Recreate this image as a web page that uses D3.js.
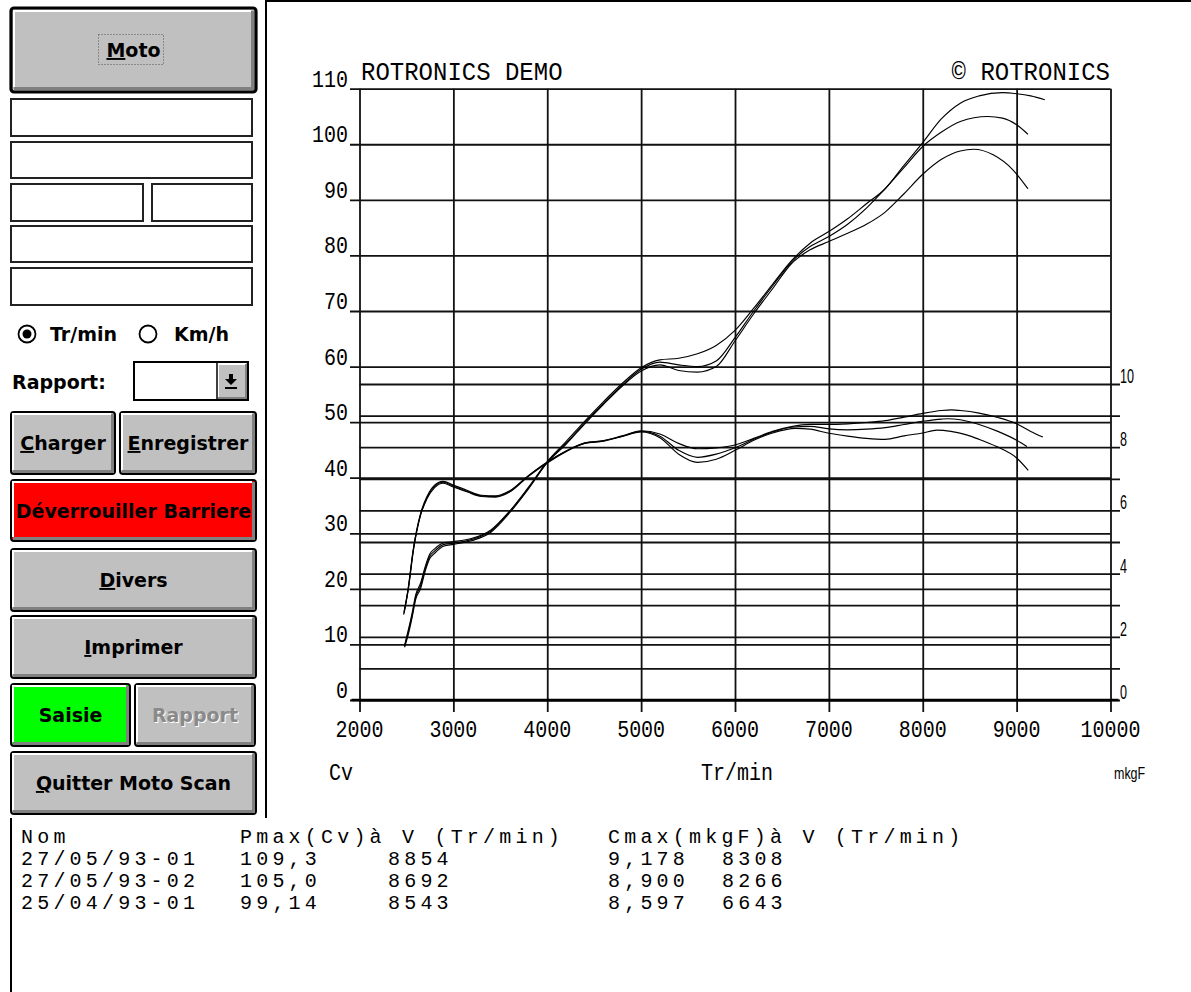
<!DOCTYPE html>
<html>
<head>
<meta charset="utf-8">
<script src="https://cdn.jsdelivr.net/npm/d3@7"></script>
<style>
  body { margin: 0; background: #fff; }
  svg { display: block; }
</style>
</head>
<body>
<div id="chart"></div>
<script>
// ---------------------------------------------------------------------------
// Moto Scan — dyno plot (power Cv + torque mkgF vs Tr/min), 3 runs
// ---------------------------------------------------------------------------

const rpmTicks = [2000, 3000, 4000, 5000, 6000, 7000, 8000, 9000, 10000];
const powerTicks = [0, 10, 20, 30, 40, 50, 60, 70, 80, 90, 100, 110];
const torqueTicks = [0, 1, 2, 3, 4, 5, 6, 7, 8, 9, 10];
const torqueLabels = [0, 2, 4, 6, 8, 10];

const runNames = ['27/05/93-01', '27/05/93-02', '25/04/93-01'];
const pmax = ['109,3', '105,0', '99,14'];
const pmaxRpm = ['8854', '8692', '8543'];
const cmax = ['9,178', '8,900', '8,597'];
const cmaxRpm = ['8308', '8266', '6643'];

// run 1 — 27/05/93-01
const rpmPow1 = [2480, 2520, 2560, 2600, 2650, 2700, 2750, 2800, 2900, 3000, 3200, 3400, 3600, 3800, 4000, 4200, 4400, 4600, 4800, 5000, 5200, 5400, 5600, 5800, 6000, 6200, 6400, 6600, 6800, 7000, 7200, 7400, 7600, 7800, 8000, 8200, 8400, 8600, 8850, 9000, 9150, 9300];
const pow1 = [9.8, 12.6, 15.6, 19.0, 21.0, 24.0, 26.3, 27.2, 28.3, 28.5, 29.1, 30.6, 34.0, 38.3, 42.9, 46.5, 50.2, 53.7, 57.0, 59.8, 61.2, 61.5, 62.3, 63.8, 66.5, 70.5, 74.8, 79.0, 82.2, 84.3, 86.6, 89.3, 92.0, 96.2, 100.3, 104.6, 107.4, 108.7, 109.3, 109.1, 108.7, 108.0];
const rpmTrq1 = [2475, 2520, 2575, 2650, 2720, 2800, 2890, 3000, 3150, 3300, 3450, 3600, 3800, 4000, 4200, 4400, 4600, 4800, 5000, 5200, 5400, 5600, 5800, 6000, 6200, 6400, 6600, 6800, 7000, 7200, 7400, 7600, 7800, 8000, 8200, 8308, 8400, 8600, 8800, 9000, 9150, 9280];
const trq1 = [2.8, 3.55, 4.8, 5.9, 6.45, 6.8, 6.92, 6.8, 6.63, 6.48, 6.46, 6.62, 7.1, 7.53, 7.88, 8.14, 8.21, 8.36, 8.52, 8.42, 8.12, 7.95, 7.98, 8.07, 8.28, 8.5, 8.65, 8.72, 8.72, 8.74, 8.78, 8.84, 8.95, 9.07, 9.16, 9.18, 9.16, 9.08, 8.94, 8.74, 8.5, 8.32];

// run 2 — 27/05/93-02
const rpmPow2 = [2480, 2520, 2560, 2600, 2650, 2700, 2750, 2800, 2900, 3000, 3200, 3400, 3600, 3800, 4000, 4200, 4400, 4600, 4800, 5000, 5200, 5400, 5600, 5800, 6000, 6200, 6400, 6600, 6800, 7000, 7200, 7400, 7600, 7800, 8000, 8200, 8400, 8692, 8850, 9000, 9120];
const pow2 = [9.7, 12.2, 15.2, 18.6, 20.5, 23.6, 25.9, 26.8, 28.0, 28.2, 28.9, 30.4, 33.9, 38.1, 42.8, 46.2, 49.9, 53.4, 56.7, 59.5, 60.8, 60.3, 60.0, 61.0, 65.2, 70.0, 74.5, 78.8, 81.6, 83.4, 85.6, 88.5, 92.0, 95.8, 99.6, 102.2, 104.1, 105.0, 104.7, 103.5, 101.8];
const rpmTrq2 = [2475, 2520, 2575, 2650, 2720, 2800, 2890, 3000, 3150, 3300, 3450, 3600, 3800, 4000, 4200, 4400, 4600, 4800, 5000, 5200, 5400, 5600, 5800, 6000, 6200, 6400, 6600, 6800, 7000, 7200, 7400, 7600, 7800, 8000, 8200, 8266, 8400, 8600, 8800, 9000, 9110];
const trq2 = [2.75, 3.5, 4.75, 5.85, 6.4, 6.76, 6.89, 6.77, 6.6, 6.46, 6.44, 6.6, 7.1, 7.52, 7.87, 8.13, 8.2, 8.35, 8.5, 8.35, 7.9, 7.68, 7.78, 7.98, 8.25, 8.48, 8.63, 8.66, 8.58, 8.55, 8.57, 8.62, 8.72, 8.82, 8.89, 8.9, 8.87, 8.72, 8.5, 8.22, 8.02];

// run 3 — 25/04/93-01
const rpmPow3 = [2480, 2520, 2560, 2600, 2650, 2700, 2750, 2800, 2900, 3000, 3200, 3400, 3600, 3800, 4000, 4200, 4400, 4600, 4800, 5000, 5200, 5400, 5600, 5800, 6000, 6200, 6400, 6600, 6800, 7000, 7200, 7400, 7600, 7800, 8000, 8200, 8400, 8543, 8750, 8960, 9120];
const pow3 = [9.5, 11.8, 14.8, 18.2, 20.0, 23.2, 25.5, 26.4, 27.7, 28.0, 28.7, 30.2, 33.7, 38.0, 42.7, 46.0, 49.7, 53.2, 56.5, 59.2, 60.3, 59.3, 59.0, 60.0, 64.6, 69.5, 74.0, 78.5, 81.0, 82.5, 84.0, 85.6, 87.8, 91.1, 94.6, 97.3, 98.8, 99.1, 98.1, 95.4, 92.0];
const rpmTrq3 = [2470, 2515, 2570, 2645, 2715, 2800, 2890, 3000, 3150, 3300, 3450, 3600, 3800, 4000, 4200, 4400, 4600, 4800, 5000, 5200, 5400, 5600, 5800, 6000, 6200, 6400, 6643, 6800, 7000, 7200, 7400, 7600, 7800, 8000, 8150, 8300, 8467, 8600, 8787, 9000, 9124];
const trq3 = [2.7, 3.45, 4.7, 5.8, 6.35, 6.72, 6.86, 6.74, 6.58, 6.44, 6.42, 6.58, 7.08, 7.5, 7.86, 8.12, 8.19, 8.34, 8.48, 8.3, 7.78, 7.52, 7.62, 7.9, 8.22, 8.45, 8.597, 8.57, 8.44, 8.35, 8.28, 8.25, 8.36, 8.45, 8.54, 8.5, 8.39, 8.25, 8.02, 7.66, 7.27];

const powerSeries = [[rpmPow1, pow1], [rpmPow2, pow2], [rpmPow3, pow3]];
const torqueSeries = [[rpmTrq1, trq1], [rpmTrq2, trq2], [rpmTrq3, trq3]];

// ---------------------------------------------------------------------------
const W = 1191, H = 992;
const svg = d3.select('#chart').append('svg')
  .attr('width', W).attr('height', H)
  .attr('viewBox', `0 0 ${W} ${H}`);

const MONO = '"Liberation Mono", "DejaVu Sans Mono", monospace';
const UIF = '"DejaVu Sans", "Liberation Sans", sans-serif';

// Scales
const x = d3.scaleLinear().domain([2000, 10000]).range([359.5, 1110.5]);
const yP = d3.scaleLinear().domain([0, 110]).range([700, 88.7]);
const yT = d3.scaleLinear().domain([0, 10]).range([700, 384]);

// Panel frames
svg.append('line').attr('x1', 266).attr('x2', 266).attr('y1', 0).attr('y2', 818)
  .attr('stroke', '#000').attr('stroke-width', 2);
svg.append('line').attr('x1', 266).attr('x2', W).attr('y1', 1).attr('y2', 1)
  .attr('stroke', '#000').attr('stroke-width', 2);
svg.append('line').attr('x1', 11).attr('x2', 11).attr('y1', 818).attr('y2', H)
  .attr('stroke', '#000').attr('stroke-width', 2);

// ---------------- chart ----------------
const chart = svg.append('g');
const GRID = '#111';

// vertical grid + x ticks
chart.append('g').attr('transform', 'translate(0,712)')
  .call(d3.axisBottom(x).tickValues(rpmTicks).tickSize(-(712 - 88.7)).tickFormat(''))
  .call(a => a.select('.domain').remove())
  .selectAll('line').attr('stroke', GRID).attr('stroke-width', 1.8);

// left horizontal grid (Cv)
chart.append('g').attr('transform', 'translate(350,0)')
  .call(d3.axisRight(yP).tickValues(powerTicks).tickSize(x.range()[1] - 350).tickFormat(''))
  .call(a => a.select('.domain').remove())
  .selectAll('line').attr('stroke', GRID).attr('stroke-width', 1.8);

// right horizontal grid (mkgF)
chart.append('g').attr('transform', 'translate(1120,0)')
  .call(d3.axisLeft(yT).tickValues(torqueTicks).tickSize(1120 - x.range()[0]).tickFormat(''))
  .call(a => a.select('.domain').remove())
  .selectAll('line').attr('stroke', GRID).attr('stroke-width', 1.8);

// x axis base line
chart.append('line').attr('x1', x(2000) - 8).attr('x2', x(10000) + 8)
  .attr('y1', yP(0)).attr('y2', yP(0)).attr('stroke', '#000').attr('stroke-width', 2.6);

// tall raster-like tick labels
function tallText(g, tx, ty, str, anchor, size = 20, sy = 1.2) {
  return g.append('text')
    .attr('transform', `translate(${tx},${ty}) scale(1,${sy})`)
    .attr('text-anchor', anchor)
    .attr('font-family', MONO).attr('font-size', size).attr('fill', '#000')
    .text(str);
}

const labels = chart.append('g');
rpmTicks.forEach(v => tallText(labels, x(v), 737, v, 'middle'));
powerTicks.forEach(v => tallText(labels, 348, yP(v) - 2, v, 'end'));
torqueLabels.forEach(v => {
  labels.append('text')
    .attr('transform', `translate(1120,${yT(v) - 1}) scale(0.66,1.05)`)
    .attr('font-family', '"Liberation Sans", Arial, sans-serif').attr('font-size', 19)
    .text(v);
});

tallText(labels, 361, 80, 'ROTRONICS DEMO', 'start', 24, 1.1);
tallText(labels, 1110, 80, '© ROTRONICS', 'end', 24, 1.1);
tallText(labels, 329, 780, 'Cv', 'start');
tallText(labels, 737, 780, 'Tr/min', 'middle');
labels.append('text')
  .attr('transform', 'translate(1114,779) scale(0.78,1.05)')
  .attr('font-family', '"Liberation Sans", Arial, sans-serif').attr('font-size', 16)
  .text('mkgF');

// curves
const powerLine = d3.line().x(d => x(d[0])).y(d => yP(d[1])).curve(d3.curveMonotoneX);
const torqueLine = d3.line().x(d => x(d[0])).y(d => yT(d[1])).curve(d3.curveMonotoneX);

const curves = chart.append('g').attr('fill', 'none').attr('stroke', '#000').attr('stroke-width', 1.15);
powerSeries.forEach(([r, v]) => curves.append('path').datum(d3.zip(r, v)).attr('d', powerLine));
torqueSeries.forEach(([r, v]) => curves.append('path').datum(d3.zip(r, v)).attr('d', torqueLine));

// ---------------- results table ----------------
const table = svg.append('g')
  .attr('font-family', MONO).attr('font-size', 20).attr('letter-spacing', 4.2).attr('fill', '#000');
const colX = [21, 240, 388, 608, 722];
const rowY0 = 843, rowStep = 22;
table.append('text').attr('x', colX[0]).attr('y', rowY0).text('Nom');
table.append('text').attr('x', colX[1]).attr('y', rowY0).text('Pmax(Cv)à V (Tr/min)');
table.append('text').attr('x', colX[3]).attr('y', rowY0).text('Cmax(mkgF)à V (Tr/min)');
runNames.forEach((name, i) => {
  const y = rowY0 + (i + 1) * rowStep;
  [name, pmax[i], pmaxRpm[i], cmax[i], cmaxRpm[i]].forEach((s, j) =>
    table.append('text').attr('x', colX[j]).attr('y', y).text(s));
});

// ---------------- control panel ----------------
const ui = svg.append('g');

function bevel(g, bx, by, w, h, face, thick) {
  g.append('rect').attr('x', bx + 1).attr('y', by + 1).attr('width', w - 2).attr('height', h - 2)
    .attr('rx', 3).attr('fill', face).attr('stroke', '#000').attr('stroke-width', thick ? 3.2 : 2);
  const o = thick ? 4 : 3;
  g.append('path').attr('d', `M${bx + o},${by + h - o - 2} V${by + o} H${bx + w - o - 2}`)
    .attr('fill', 'none').attr('stroke', '#fff').attr('stroke-width', 2);
  g.append('path').attr('d', `M${bx + o},${by + h - o - 0.5} H${bx + w - o - 0.5} V${by + o}`)
    .attr('fill', 'none').attr('stroke', '#808080').attr('stroke-width', 3);
}

function button(bx, by, w, h, label, opt = {}) {
  const g = ui.append('g');
  bevel(g, bx, by, w, h, opt.face || '#c0c0c0', opt.thick);
  const t = g.append('text')
    .attr('x', bx + w / 2).attr('y', by + h / 2 + 7)
    .attr('text-anchor', 'middle')
    .attr('font-family', UIF).attr('font-weight', 'bold').attr('font-size', opt.size || 19);
  if (opt.disabled) {
    g.insert('text', 'text:last-of-type')
      .attr('x', bx + w / 2 + 1).attr('y', by + h / 2 + 8).attr('text-anchor', 'middle')
      .attr('font-family', UIF).attr('font-weight', 'bold').attr('font-size', opt.size || 19)
      .attr('fill', '#fff').text(label);
    t.attr('fill', '#8a8a8a').text(label);
  } else if (opt.ul) {
    t.append('tspan').attr('text-decoration', 'underline').text(label[0]);
    t.append('tspan').text(label.slice(1));
  } else {
    t.text(label);
  }
  return g;
}

// Moto (default button, focused)
const moto = button(10, 7, 247, 86, 'Moto', { ul: true, thick: true });
moto.append('rect').attr('x', 98.5).attr('y', 34.5).attr('width', 65).attr('height', 30)
  .attr('fill', 'none').attr('stroke', '#555').attr('stroke-width', 1).attr('stroke-dasharray', '1,2');

// entry fields
const fields = [[10, 98, 243, 39], [10, 141, 243, 38], [10, 183, 134, 39], [151, 183, 102, 39], [10, 225, 243, 38], [10, 267, 243, 39]];
fields.forEach(([fx, fy, fw, fh]) => ui.append('rect')
  .attr('x', fx + 1).attr('y', fy + 1).attr('width', fw - 2).attr('height', fh - 2)
  .attr('fill', '#fff').attr('stroke', '#222').attr('stroke-width', 2));

// radio buttons
const radio = ui.append('g').attr('font-family', UIF).attr('font-weight', 'bold').attr('font-size', 19);
radio.append('circle').attr('cx', 27).attr('cy', 334).attr('r', 8.5).attr('fill', '#fff').attr('stroke', '#000').attr('stroke-width', 1.8);
radio.append('circle').attr('cx', 27).attr('cy', 334).attr('r', 4.5).attr('fill', '#000');
radio.append('text').attr('x', 50).attr('y', 341).text('Tr/min');
radio.append('circle').attr('cx', 148).attr('cy', 334).attr('r', 8.5).attr('fill', '#fff').attr('stroke', '#000').attr('stroke-width', 1.8);
radio.append('text').attr('x', 174).attr('y', 341).text('Km/h');

// Rapport combo
radio.append('text').attr('x', 12).attr('y', 389).text('Rapport:');
ui.append('rect').attr('x', 134).attr('y', 362).attr('width', 114).attr('height', 38)
  .attr('fill', '#fff').attr('stroke', '#000').attr('stroke-width', 2);
const arrowBtn = ui.append('g');
arrowBtn.append('rect').attr('x', 217).attr('y', 363).attr('width', 30).attr('height', 36).attr('fill', '#c0c0c0');
arrowBtn.append('path').attr('d', 'M218,398 V364 H246').attr('fill', 'none').attr('stroke', '#fff').attr('stroke-width', 2);
arrowBtn.append('path').attr('d', 'M218,398 H246 V364').attr('fill', 'none').attr('stroke', '#808080').attr('stroke-width', 2);
arrowBtn.append('line').attr('x1', 217).attr('x2', 217).attr('y1', 362).attr('y2', 400).attr('stroke', '#000').attr('stroke-width', 1.5);
arrowBtn.append('path').attr('d', 'M229,374 h4 v5 h4 l-6,6 l-6,-6 h4 z').attr('fill', '#000');
arrowBtn.append('line').attr('x1', 225).attr('x2', 237).attr('y1', 388).attr('y2', 388).attr('stroke', '#000').attr('stroke-width', 2);

// action buttons
button(10, 411, 106, 64, 'Charger', { ul: true });
button(119, 411, 138, 64, 'Enregistrer', { ul: true });
button(10, 479, 247, 63, 'Déverrouiller Barriere', { face: '#ff0000' });
button(10, 548, 247, 64, 'Divers', { ul: true });
button(10, 615, 247, 64, 'Imprimer', { ul: true });
button(10, 683, 121, 64, 'Saisie', { face: '#00ff00' });
button(134, 683, 122, 64, 'Rapport', { disabled: true });
button(10, 751, 247, 64, 'Quitter Moto Scan', { ul: true });
</script>
</body>
</html>
